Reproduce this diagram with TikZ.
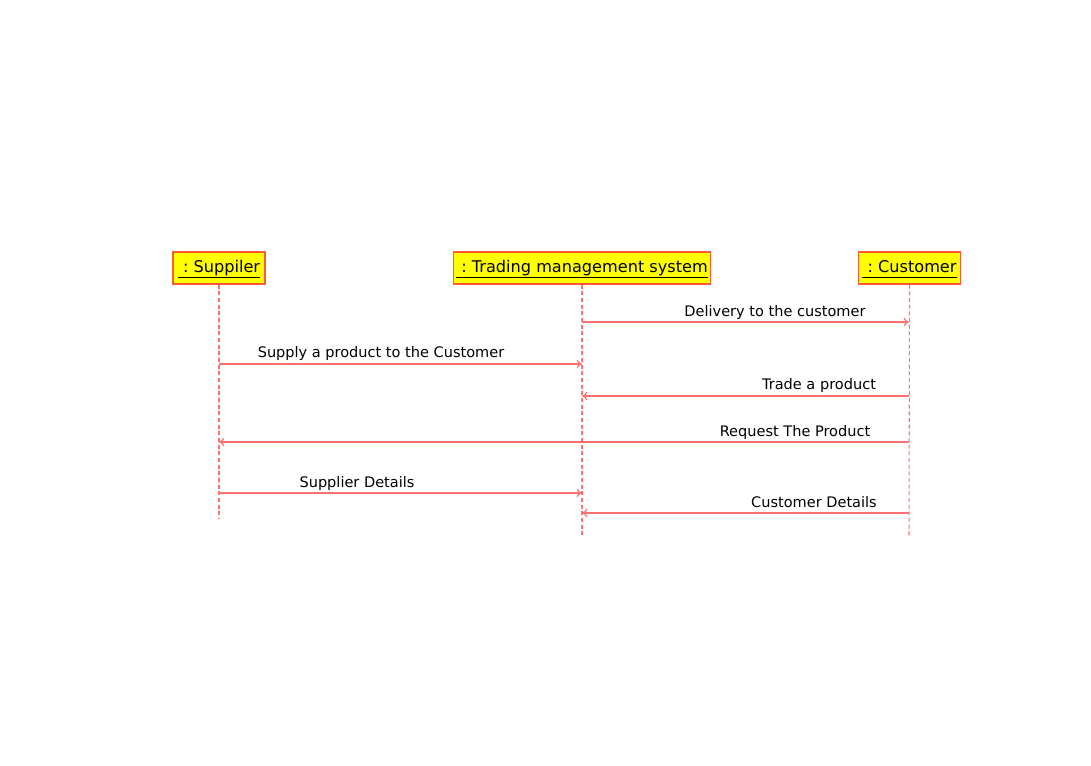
\documentclass[tikz,border=0pt]{standalone}
\usepackage{fontspec}
\setmainfont{DejaVu Sans}
\usetikzlibrary{positioning,arrows.meta}
\definecolor{lifered}{HTML}{FF7070}
\definecolor{boxedge}{HTML}{FF5A3C}
\definecolor{boxfill}{HTML}{FFFF00}

\begin{document}
\begin{tikzpicture}[x=0.75pt,y=-0.75pt,
  obj/.style={draw=boxedge,fill=boxfill,line width=0.9pt,minimum height=24pt,
    inner xsep=2pt,text height=9.5pt,text depth=3pt,font=\fontsize{12.1}{14}\selectfont},
  life/.style={draw=lifered,line width=0.8pt,dash pattern=on 3pt off 2pt},
  msg/.style={draw=lifered,line width=0.9pt,-{To[length=4pt,width=6.5pt]}},
  lbl/.style={font=\fontsize{10.9}{12}\selectfont,inner sep=0pt}]
\useasboundingbox (0,0) rectangle (1091,766);
% objects
\node[obj,minimum width=69pt](sup) at (219,268){\underline{\vphantom{p}\ :\ Suppiler}};
\node[obj,minimum width=192pt](tms) at (582,268){\underline{\vphantom{p}\ :\ Trading management system}};
\node[obj,minimum width=77pt](cus) at (909.5,268){\underline{\vphantom{p}\ :\ Customer}};
% lifelines
\coordinate (supend) at (219,518);
\coordinate (tmsend) at (582,537);
\coordinate (cusend) at (909,537);
\draw[life] (sup.south) -- (supend);
\draw[life] (tms.south) -- (tmsend);
\draw[life] (cus.south) -- (cusend);
% messages
\coordinate (t1) at (582,322); \coordinate (c1) at (909,322);
\draw[msg] (t1) -- (c1);
\node[lbl](m1) at (775,312){Delivery to the customer};
\coordinate (s2) at (219,364); \coordinate (t2) at (582,364);
\draw[msg] (s2) -- (t2);
\node[lbl](m2) at (381,353){Supply a product to the Customer};
\coordinate (c3) at (909,396); \coordinate (t3) at (582,396);
\draw[msg] (c3) -- (t3);
\node[lbl](m3) at (819,385){Trade a product};
\coordinate (c4) at (909,442); \coordinate (s4) at (219,442);
\draw[msg] (c4) -- (s4);
\node[lbl](m4) at (795,432){Request The Product};
\coordinate (s5) at (219,493); \coordinate (t5) at (582,493);
\draw[msg] (s5) -- (t5);
\node[lbl](m5) at (357,483){Supplier Details};
\coordinate (c6) at (909,513); \coordinate (t6) at (582,513);
\draw[msg] (c6) -- (t6);
\node[lbl](m6) at (814,502){Customer Details};
\end{tikzpicture}
\end{document}
